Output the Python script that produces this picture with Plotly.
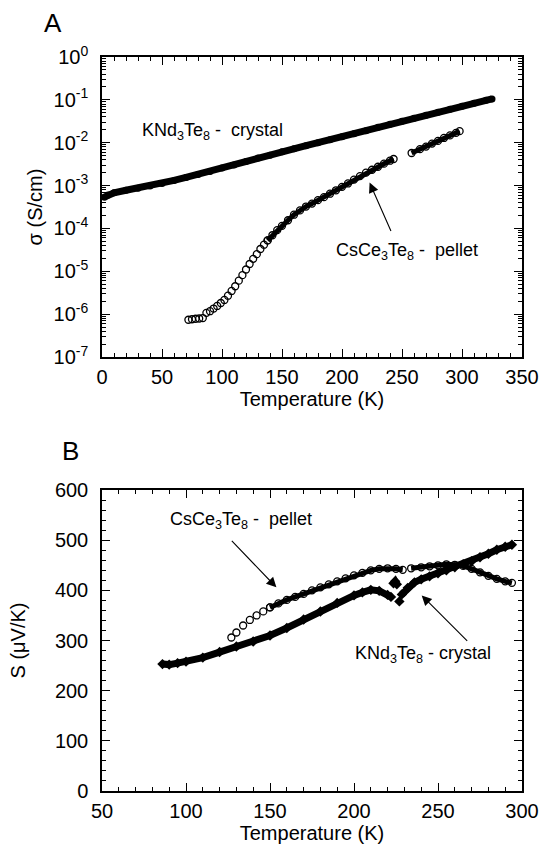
import plotly.graph_objects as go
from plotly.subplots import make_subplots

# ---------------- Panel A: conductivity ----------------
kndA_T = [2, 5, 10, 20, 30, 40, 50, 60, 70, 80, 90, 100, 110, 120, 130, 140, 150, 160, 170, 180,
          190, 200, 210, 220, 230, 240, 250, 260, 270, 280, 290, 300, 310, 320, 325]
kndA_sigma = [5.37e-4, 6.03e-4, 6.76e-4, 7.76e-4, 8.71e-4, 9.77e-4, 1.12e-3, 1.32e-3, 1.55e-3, 1.82e-3,
              2.14e-3, 2.57e-3, 3.02e-3, 3.63e-3, 4.37e-3, 5.13e-3, 6.17e-3, 7.24e-3, 8.51e-3, 1.00e-2,
              1.17e-2, 1.38e-2, 1.62e-2, 1.91e-2, 2.29e-2, 2.69e-2, 3.16e-2, 3.72e-2, 4.37e-2, 5.13e-2,
              6.03e-2, 7.08e-2, 8.32e-2, 9.77e-2, 1.05e-1]

csA_T_sparse = [72, 75, 78, 81, 84, 87, 90, 93, 96, 99, 102, 105, 108, 111, 114, 117, 120, 123, 126, 129, 132, 135, 138]
csA_sigma_sparse = [7.4e-7, 7.6e-7, 7.8e-7, 7.9e-7, 8.1e-7, 1.07e-6, 1.17e-6, 1.35e-6, 1.55e-6, 1.82e-6,
                    2.14e-6, 2.69e-6, 3.47e-6, 4.47e-6, 6.03e-6, 8.13e-6, 1.10e-5, 1.48e-5, 1.95e-5,
                    2.51e-5, 3.31e-5, 4.17e-5, 5.25e-5]
csA_T_dense = [138, 142, 146, 150, 155, 160, 165, 170, 175, 180, 185, 190, 195, 200, 205, 210, 215, 220,
               225, 230, 235, 240, 243, None, 258, 265, 270, 275, 280, 285, 290, 295, 298]
csA_sigma_dense = [5.25e-5, 6.92e-5, 9.12e-5, 1.15e-4, 1.55e-4, 2.09e-4, 2.63e-4, 3.24e-4, 3.80e-4, 4.57e-4,
                   5.37e-4, 6.46e-4, 7.76e-4, 9.33e-4, 1.12e-3, 1.38e-3, 1.66e-3, 2.00e-3, 2.34e-3,
                   2.75e-3, 3.24e-3, 3.80e-3, 4.17e-3, None, 5.75e-3, 7.08e-3, 8.13e-3, 9.55e-3,
                   1.10e-2, 1.29e-2, 1.48e-2, 1.70e-2, 1.86e-2]

logA_tickvals = [1e-7, 1e-6, 1e-5, 1e-4, 1e-3, 1e-2, 1e-1, 1e0]
logA_ticktext = ["10<sup>-7</sup>", "10<sup>-6</sup>", "10<sup>-5</sup>", "10<sup>-4</sup>",
                 "10<sup>-3</sup>", "10<sup>-2</sup>", "10<sup>-1</sup>", "10<sup>0</sup>"]
logA_minor = [m * 10.0 ** e for e in range(-7, 0) for m in range(2, 10)]

# ---------------- Panel B: Seebeck ----------------
kndB_T = [86, 90, 95, 100, 110, 120, 130, 140, 150, 160, 170, 180, 190, 200, 205, 210, 215, 220, 222, None,
          223.5, 224.5, 225.5, None, 227, None, 228.5, 232, 236, 240, 245, 250, 255, 260, 265, 270, 275,
          280, 285, 290, 294]
kndB_S = [253, 252, 255, 258, 266, 277, 288, 298, 310, 325, 342, 358, 375, 390, 396, 401, 399, 391, 387, None,
          414, 418, 412, None, 378, None, 392, 405, 416, 422, 428, 434, 440, 446, 452, 458, 466,
          473, 481, 487, 491]

csB_T_sparse = [127, 130, 134, 138, 142, 146, 150]
csB_S_sparse = [306, 316, 330, 341, 350, 358, 366]
csB_T_dense = [150, 155, 160, 165, 170, 175, 180, 185, 190, 195, 200, 205, 210, 215, 220, 225, 229, None,
               234, 240, 245, 250, 255, 260, 265, 270, 275, 280, 285, 290, 294]
csB_S_dense = [366, 374, 381, 387, 393, 400, 406, 412, 418, 424, 430, 435, 440, 443, 444, 443, 441, None,
               444, 446, 448, 450, 452, 451, 449, 443, 436, 429, 423, 418, 415]

FONT = "Liberation Sans, Arial, Helvetica, sans-serif"

fig = make_subplots(rows=2, cols=1, vertical_spacing=0.18)

# Panel A traces
fig.add_trace(go.Scatter(x=kndA_T, y=kndA_sigma, mode="lines+markers",
                         line=dict(color="black", width=7),
                         marker=dict(symbol="circle", size=7, color="black"),
                         showlegend=False), row=1, col=1)
fig.add_trace(go.Scatter(x=csA_T_sparse, y=csA_sigma_sparse, mode="markers",
                         marker=dict(symbol="circle-open", size=7, color="black", line=dict(width=1.3)),
                         showlegend=False), row=1, col=1)
fig.add_trace(go.Scatter(x=csA_T_dense, y=csA_sigma_dense, mode="lines+markers",
                         line=dict(color="black", width=5),
                         marker=dict(symbol="circle-open", size=7, color="black", line=dict(width=1.3)),
                         connectgaps=False, showlegend=False), row=1, col=1)

# Panel B traces
fig.add_trace(go.Scatter(x=kndB_T, y=kndB_S, mode="lines+markers",
                         line=dict(color="black", width=7),
                         marker=dict(symbol="diamond", size=8, color="black"),
                         connectgaps=False, showlegend=False), row=2, col=1)
fig.add_trace(go.Scatter(x=csB_T_sparse, y=csB_S_sparse, mode="markers",
                         marker=dict(symbol="circle-open", size=7, color="black", line=dict(width=1.3)),
                         showlegend=False), row=2, col=1)
fig.add_trace(go.Scatter(x=csB_T_dense, y=csB_S_dense, mode="lines+markers",
                         line=dict(color="black", width=5),
                         marker=dict(symbol="circle-open", size=7, color="black", line=dict(width=1.3)),
                         connectgaps=False, showlegend=False), row=2, col=1)

axis_common = dict(showline=True, linecolor="black", linewidth=1.5, mirror="ticks",
                   ticks="inside", ticklen=8, tickwidth=1.2, tickcolor="black",
                   showgrid=False, zeroline=False, automargin=False,
                   tickfont=dict(family=FONT, size=20, color="black"))

title_font = dict(family=FONT, size=20, color="black")

fig.update_xaxes(**axis_common, range=[0, 350], dtick=50, tick0=0,
                 minor=dict(ticks="inside", ticklen=4, dtick=10, tickcolor="black", showgrid=False),
                 title=dict(text="Temperature (K)", font=title_font, standoff=2),
                 ticklabelstandoff=1, ticklabeloverflow="allow",
                 domain=[0, 1], row=1, col=1)
fig.update_yaxes(**axis_common, type="log", range=[-7, 0],
                 tickvals=logA_tickvals, ticktext=logA_ticktext,
                 minor=dict(ticks="inside", ticklen=4, tickvals=logA_minor, tickcolor="black", showgrid=False),
                 title=dict(text="σ (S/cm)", font=title_font, standoff=6),
                 ticklabelstandoff=8,
                 domain=[0.5913, 1.0], row=1, col=1)

fig.update_xaxes(**axis_common, range=[50, 300], dtick=50, tick0=50,
                 minor=dict(ticks="inside", ticklen=4, dtick=10, tickcolor="black", showgrid=False),
                 title=dict(text="Temperature (K)", font=title_font, standoff=4),
                 ticklabelstandoff=1, ticklabeloverflow="allow",
                 domain=[0, 1], row=2, col=1)
fig.update_yaxes(**axis_common, range=[0, 600], dtick=100, tick0=0,
                 minor=dict(ticks="inside", ticklen=4, dtick=20, tickcolor="black", showgrid=False),
                 title=dict(text="S (μV/K)", font=title_font, standoff=24),
                 ticklabelstandoff=8,
                 domain=[0.0, 0.41], row=2, col=1)

lab_font = dict(family=FONT, size=18, color="black")
ann = [
    # Panel letters
    dict(text="A", xref="paper", yref="paper", x=-0.117, y=1.046, xanchor="center", yanchor="middle",
         showarrow=False, font=dict(family=FONT, size=26, color="black")),
    dict(text="B", xref="paper", yref="paper", x=-0.076, y=0.463, xanchor="center", yanchor="middle",
         showarrow=False, font=dict(family=FONT, size=26, color="black")),
    # Panel A labels
    dict(text="KNd<sub>3</sub>Te<sub>8</sub> -&nbsp; crystal", xref="x", yref="y", x=92, y=-1.74,
         showarrow=False, font=lab_font),
    dict(text="CsCe<sub>3</sub>Te<sub>8</sub> -&nbsp; pellet", xref="x", yref="y", x=254, y=-4.53,
         showarrow=False, font=lab_font),
    dict(text="", xref="x", yref="y", x=223, y=-2.93, ax=22, ay=50, showarrow=True,
         arrowhead=2, arrowsize=1.8, arrowwidth=1.1, arrowcolor="black"),
    # Panel B labels
    dict(text="CsCe<sub>3</sub>Te<sub>8</sub> -&nbsp; pellet", xref="x2", yref="y2", x=133, y=540,
         showarrow=False, font=lab_font),
    dict(text="", xref="x2", yref="y2", x=153.8, y=406, ax=-46, ay=-48, showarrow=True,
         arrowhead=2, arrowsize=1.8, arrowwidth=1.1, arrowcolor="black"),
    dict(text="KNd<sub>3</sub>Te<sub>8</sub> - crystal", xref="x2", yref="y2", x=241, y=272,
         showarrow=False, font=lab_font),
    dict(text="", xref="x2", yref="y2", x=240.3, y=390, ax=47, ay=47, showarrow=True,
         arrowhead=2, arrowsize=1.8, arrowwidth=1.1, arrowcolor="black"),
]

fig.update_layout(width=542, height=844, margin=dict(l=102, r=20, t=57, b=53, autoexpand=False),
                  plot_bgcolor="white", paper_bgcolor="white",
                  font=dict(family=FONT, color="black"),
                  annotations=ann, showlegend=False, hovermode=False)

# remove the default 8 px page margin so the 542x844 figure fills the window exactly
fig.write_html("out.html", config={"displayModeBar": False},
               post_script="document.body.style.margin='0px';document.body.style.overflow='hidden';")
